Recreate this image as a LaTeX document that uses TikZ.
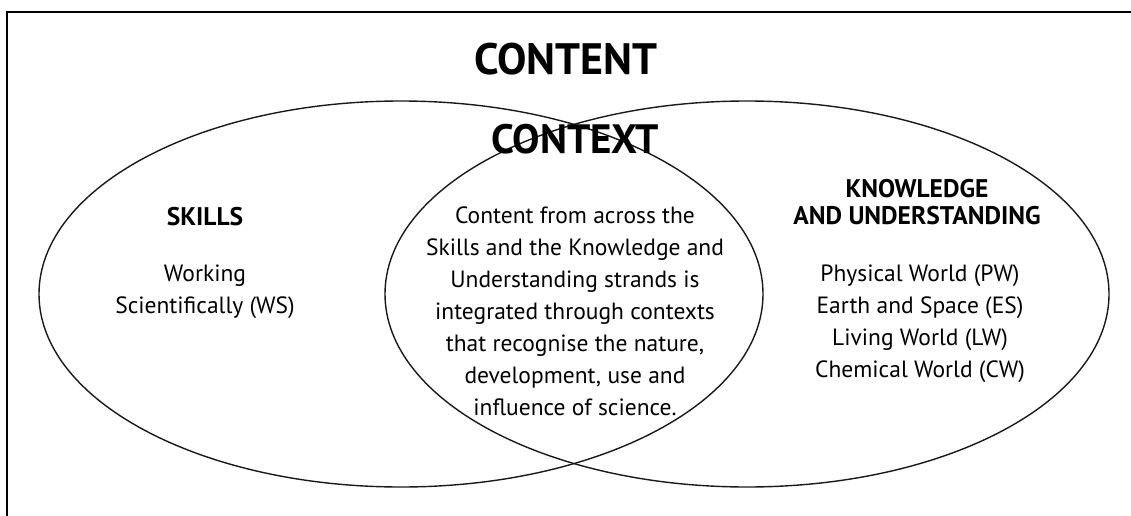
\documentclass[tikz,border=0pt]{standalone}
\usepackage{fontspec}
\setmainfont{PT Sans}
\usetikzlibrary{positioning}

\begin{document}
\begin{tikzpicture}[x=1pt, y=-1pt, line width=1.1pt,
    venn/.style={draw=black!90, line width=1.4pt},
    title/.style={font=\bfseries\fontsize{44}{44}\selectfont, inner sep=0pt, anchor=base},
    head/.style={font=\bfseries\fontsize{25.5}{27}\selectfont, align=center, inner sep=0pt, anchor=base},
    body/.style={font=\fontsize{23.5}{32}\selectfont, align=center, inner sep=0pt, anchor=base}]
  \def\rx{362pt}\def\ry{193pt}
  \useasboundingbox (0,0) rectangle (1131,516);
  % frame
  \draw[line width=1.4pt] (7,516) -- (7,12) -- (1131,12);
  % the two sets
  \draw[venn] (401,294) ellipse[x radius=\rx, y radius=\ry];
  \draw[venn] (747,294) ellipse[x radius=\rx, y radius=\ry];
  % labels (anchor base = baseline of the last line)
  \node[title] (content) at (566,75) {CONTENT};
  \node[title, font=\bfseries\fontsize{41}{41}\selectfont] (context) at (575,153) {CONTEXT};
  \node[head] (skills) at (205,225) {SKILLS};
  \node[body] (ws) at (205,313) {Working\\Scientifically (WS)};
  \node[body] (strands) at (575,415) {Content from across the\\Skills and the Knowledge and\\Understanding strands is\\integrated through contexts\\that recognise the nature,\\development, use and\\influence of science.};
  \node[head] (ku) at (917,224) {KNOWLEDGE\\AND UNDERSTANDING};
  \node[body] (worlds) at (920,377) {Physical World (PW)\\Earth and Space (ES)\\Living World (LW)\\Chemical World (CW)};
\end{tikzpicture}
\end{document}
